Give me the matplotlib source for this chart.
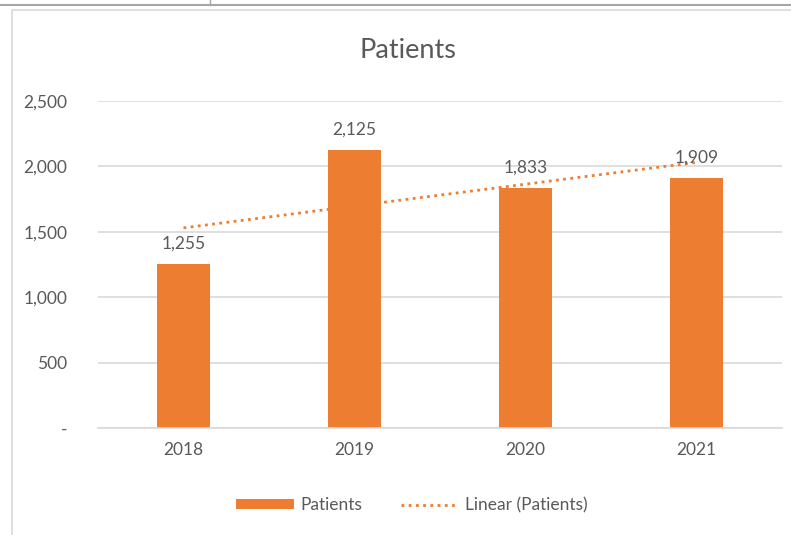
import numpy as np
import matplotlib.pyplot as plt
from matplotlib.patches import Rectangle
from matplotlib.lines import Line2D

# Chart data
years = ["2018", "2019", "2020", "2021"]
patients = [1255, 2125, 1833, 1909]
y_ticks = [0, 500, 1000, 1500, 2000, 2500]
y_tick_labels = ["-", "500", "1,000", "1,500", "2,000", "2,500"]

BAR_COLOR = "#ED7D31"
TEXT_COLOR = "#595959"
GRID_COLOR = "#D9D9D9"

plt.rcParams["font.family"] = ["Lato", "DejaVu Sans"]

W, H = 791, 535
fig = plt.figure(figsize=(W / 100, H / 100), dpi=100)

# spreadsheet cell borders at the top and the chart frame
fig.add_artist(Line2D([0, 1], [1 - 5 / H, 1 - 5 / H], color="#A6A6A6", lw=1.5))
fig.add_artist(Line2D([210 / W, 210 / W], [1 - 5 / H, 1], color="#A6A6A6", lw=1.0))
fig.add_artist(Rectangle((12 / W, -0.05), 1.0, 1 - 10 / H + 0.05,
                         fill=False, edgecolor=GRID_COLOR, lw=1.2))

ax = fig.add_axes([98 / W, 107 / H, 684 / W, 327 / H])
x = np.arange(len(years))
bars = ax.bar(x, patients, width=0.31, color=BAR_COLOR, zorder=2, label="Patients")

# linear trendline like Excel
slope, intercept = np.polyfit(x, patients, 1)
trend, = ax.plot(x, slope * x + intercept, color=BAR_COLOR, ls=(0, (1, 1.6)), lw=2,
                 zorder=3, label="Linear (Patients)")

for xi, v in zip(x, patients):
    ax.annotate(f"{v:,}", (xi, v), xytext=(0, 9), textcoords="offset points",
                ha="center", va="bottom", fontsize=12.5, color=TEXT_COLOR)

ax.set_xlim(-0.5, 3.5)
ax.set_ylim(0, 2500)
ax.set_yticks(y_ticks)
ax.set_yticklabels(y_tick_labels)
ax.set_xticks(x)
ax.set_xticklabels(years)
ax.yaxis.grid(True, color=GRID_COLOR, lw=1.2, zorder=0)
ax.tick_params(length=0, labelsize=12.5, colors=TEXT_COLOR)
ax.tick_params(axis="y", pad=22)
ax.tick_params(axis="x", pad=10)
for s in ["top", "right", "left"]:
    ax.spines[s].set_visible(False)
ax.spines["bottom"].set_color(GRID_COLOR)
ax.spines["bottom"].set_linewidth(1.2)

fig.text(408 / W, 1 - 50 / H, "Patients", ha="center", va="center",
         fontsize=19.5, color=TEXT_COLOR)

fig.legend(handles=[bars, trend], loc="center", bbox_to_anchor=(412 / W, 1 - 505 / H),
           ncol=2, frameon=False, fontsize=12.5, labelcolor=TEXT_COLOR,
           handlelength=3.3, handleheight=0.45, columnspacing=2.2, handletextpad=0.4)

fig.savefig("out.png", dpi=100)
